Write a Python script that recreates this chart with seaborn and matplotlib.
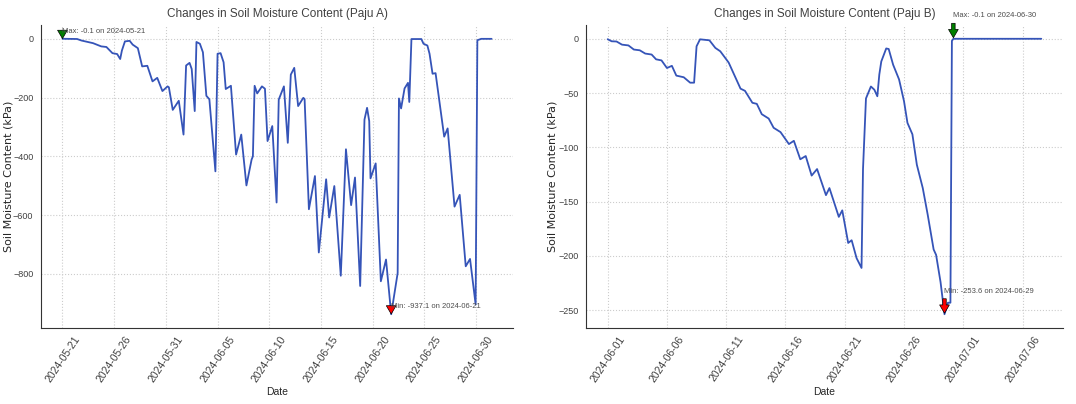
import pandas as pd
import matplotlib
matplotlib.use("Agg")
import matplotlib.pyplot as plt
import matplotlib.dates as mdates
import seaborn as sns

# Paju A: soil moisture tension readings (kPa)
a_times = [
    "2024-05-21 00:00", "2024-05-22 10:00", "2024-05-22 20:00", "2024-05-23 14:00", "2024-05-23 23:00",
    "2024-05-24 18:00", "2024-05-25 06:00", "2024-05-25 20:00", "2024-05-26 07:00", "2024-05-26 14:00",
    "2024-05-26 18:00", "2024-05-27 01:00", "2024-05-27 12:00", "2024-05-27 19:00", "2024-05-28 07:00",
    "2024-05-28 17:00", "2024-05-29 05:00", "2024-05-29 17:00", "2024-05-30 04:00", "2024-05-30 16:00",
    "2024-05-31 04:00", "2024-05-31 07:00", "2024-05-31 16:00", "2024-06-01 06:00", "2024-06-01 17:00",
    "2024-06-01 23:00", "2024-06-02 07:00", "2024-06-02 12:00", "2024-06-02 19:00", "2024-06-02 23:00",
    "2024-06-03 07:00", "2024-06-03 14:00", "2024-06-03 22:00", "2024-06-04 05:00", "2024-06-04 19:00",
    "2024-06-05 00:00", "2024-06-05 07:00", "2024-06-05 14:00", "2024-06-05 19:00", "2024-06-06 07:00",
    "2024-06-06 19:00", "2024-06-07 07:00", "2024-06-07 19:00", "2024-06-08 07:00", "2024-06-08 10:00",
    "2024-06-08 14:00", "2024-06-08 20:00", "2024-06-09 07:00", "2024-06-09 14:00", "2024-06-09 20:00",
    "2024-06-10 07:00", "2024-06-10 17:00", "2024-06-10 22:00", "2024-06-11 10:00", "2024-06-11 19:00",
    "2024-06-12 02:00", "2024-06-12 10:00", "2024-06-12 19:00", "2024-06-13 07:00", "2024-06-13 10:00",
    "2024-06-13 20:00", "2024-06-14 10:00", "2024-06-14 19:00", "2024-06-15 12:00", "2024-06-15 19:00",
    "2024-06-16 07:00", "2024-06-16 22:00", "2024-06-17 10:00", "2024-06-17 22:00", "2024-06-18 07:00",
    "2024-06-18 19:00", "2024-06-19 05:00", "2024-06-19 11:00", "2024-06-19 16:00", "2024-06-19 19:00",
    "2024-06-20 07:00", "2024-06-20 19:00", "2024-06-21 07:00", "2024-06-21 19:00", "2024-06-22 10:00",
    "2024-06-22 13:00", "2024-06-22 18:00", "2024-06-23 02:00", "2024-06-23 10:00", "2024-06-23 13:00",
    "2024-06-23 18:00", "2024-06-24 17:00", "2024-06-24 22:00", "2024-06-25 07:00", "2024-06-25 12:00",
    "2024-06-25 19:00", "2024-06-26 02:00", "2024-06-26 22:00", "2024-06-27 06:00", "2024-06-27 22:00",
    "2024-06-28 10:00", "2024-06-29 00:00", "2024-06-29 10:00", "2024-06-29 23:00", "2024-06-30 03:00",
    "2024-06-30 12:00", "2024-07-01 12:00",
]
a_kpa = [
    -0.1, -0.8, -6, -12, -15,
    -26, -28, -49, -52, -69,
    -40, -9, -7, -20, -32,
    -94, -92, -145, -133, -178,
    -162, -165, -242, -211, -326,
    -91, -82, -103, -246, -11,
    -17, -46, -194, -206, -451,
    -51, -49, -80, -171, -160,
    -394, -326, -499, -411, -400,
    -160, -186, -162, -170, -348,
    -297, -557, -207, -162, -354,
    -122, -99, -229, -201, -205,
    -580, -467, -727, -478, -608,
    -501, -806, -376, -566, -472,
    -841, -275, -235, -280, -475,
    -424, -825, -751, -937.1, -797,
    -203, -237, -169, -150, -215,
    -1, -1, -17, -23, -51,
    -119, -117, -333, -305, -571,
    -531, -774, -749, -904, -5,
    -0.3, -0.3,
]

# Paju B
b_times = [
    "2024-06-01 00:00", "2024-06-01 08:00", "2024-06-01 18:00", "2024-06-02 05:00", "2024-06-02 18:00",
    "2024-06-03 05:00", "2024-06-03 17:00", "2024-06-04 04:00", "2024-06-04 17:00", "2024-06-05 02:00",
    "2024-06-05 13:00", "2024-06-06 00:00", "2024-06-06 10:00", "2024-06-06 19:00", "2024-06-07 10:00",
    "2024-06-07 23:00", "2024-06-08 07:00", "2024-06-08 12:00", "2024-06-08 19:00", "2024-06-09 14:00",
    "2024-06-10 02:00", "2024-06-10 12:00", "2024-06-11 05:00", "2024-06-11 14:00", "2024-06-12 05:00",
    "2024-06-12 14:00", "2024-06-13 05:00", "2024-06-13 14:00", "2024-06-14 00:00", "2024-06-14 14:00",
    "2024-06-15 00:00", "2024-06-15 14:00", "2024-06-16 07:00", "2024-06-16 17:00", "2024-06-17 06:00",
    "2024-06-17 17:00", "2024-06-18 05:00", "2024-06-18 16:00", "2024-06-19 10:00", "2024-06-19 17:00",
    "2024-06-20 02:00", "2024-06-20 12:00", "2024-06-20 19:00", "2024-06-21 07:00", "2024-06-21 14:00",
    "2024-06-22 00:00", "2024-06-22 10:00", "2024-06-22 13:00", "2024-06-22 19:00", "2024-06-23 05:00",
    "2024-06-23 12:00", "2024-06-23 18:00", "2024-06-23 22:00", "2024-06-24 02:00", "2024-06-24 12:00",
    "2024-06-24 17:00", "2024-06-25 02:00", "2024-06-25 14:00", "2024-06-26 00:00", "2024-06-26 07:00",
    "2024-06-26 17:00", "2024-06-27 02:00", "2024-06-27 14:00", "2024-06-28 00:00", "2024-06-28 12:00",
    "2024-06-28 17:00", "2024-06-29 02:00", "2024-06-29 10:00", "2024-06-29 17:00", "2024-06-29 22:00",
    "2024-06-30 01:00", "2024-06-30 04:00", "2024-07-07 14:00",
]
b_kpa = [
    -0.5, -2.4, -2.6, -5.5, -6.2,
    -10, -10.7, -13.7, -14.6, -19,
    -20, -27, -25, -34, -35.5,
    -40.5, -40.5, -7, -0.6, -1.5,
    -8.5, -11.6, -22, -31, -46,
    -48, -59, -60, -69.5, -73.5,
    -82, -86, -97, -94, -111,
    -108, -126, -120, -144, -137.5,
    -150, -164, -158, -188, -185.5,
    -202, -211, -120, -55, -44,
    -47, -53, -33, -21, -9,
    -9.5, -24, -37.5, -57.5, -77.5,
    -88, -116, -137.5, -162, -194,
    -199, -224, -253.6, -243, -243,
    -2, -0.1, -0.1,
]

sites = ["Paju A", "Paju B"]

sns.set_style("whitegrid", {"axes.edgecolor": "0.2", "grid.color": "0.8",
                            "grid.linestyle": ":", "text.color": "0.25",
                            "xtick.color": "0.25", "ytick.color": "0.25"})
plt.rcParams["font.family"] = ["Liberation Sans", "DejaVu Sans"]

fig, axes = plt.subplots(1, 2, figsize=(10.76, 4.04), dpi=100)
axes[0].set_position([0.0381, 0.1881, 0.4387, 0.75])
axes[1].set_position([0.5446, 0.1881, 0.4433, 0.75])
label_x = [-0.058, -0.06]

for ax, site, times, kpa, lx in zip(axes, sites, [a_times, b_times], [a_kpa, b_kpa], label_x):
    df = pd.DataFrame({"Date": pd.to_datetime(times), "kPa": kpa})
    sns.lineplot(data=df, x="Date", y="kPa", ax=ax, color="#3554b8", linewidth=1.3)

    # ticks every 5 days from the first reading
    ticks = pd.date_range(df["Date"].min().normalize(), df["Date"].max(), freq="5D")
    ax.set_xticks(ticks)
    ax.xaxis.set_major_formatter(mdates.DateFormatter("%Y-%m-%d"))
    ax.tick_params(axis="x", labelsize=7.5, rotation=56, pad=1)
    ax.tick_params(axis="y", labelsize=6.5, pad=2)

    ax.set_title(f"Changes in Soil Moisture Content ({site})", fontsize=8.5, pad=6)
    ax.set_xlabel("Date", fontsize=7.5, labelpad=2)
    ax.set_ylabel("Soil Moisture Content (kPa)", fontsize=8, family="DejaVu Sans")
    ax.yaxis.set_label_coords(lx, 0.5)

    for func, name, col in [(pd.Series.idxmax, "Max", "green"), (pd.Series.idxmin, "Min", "red")]:
        i = func(df["kPa"])
        t, v = df.loc[i, "Date"], df.loc[i, "kPa"]
        ax.annotate(f"{name}: {v:.1f} on {t:%Y-%m-%d}", xy=(mdates.date2num(t), v),
                    xytext=(mdates.date2num(t), v + 20), fontsize=5.5, color="0.3",
                    arrowprops=dict(facecolor=col, edgecolor="black", linewidth=0.5,
                                    width=2.5, headwidth=7, headlength=6, shrink=0.05))

    sns.despine(ax=ax)

fig.savefig("out.png", dpi=100)
